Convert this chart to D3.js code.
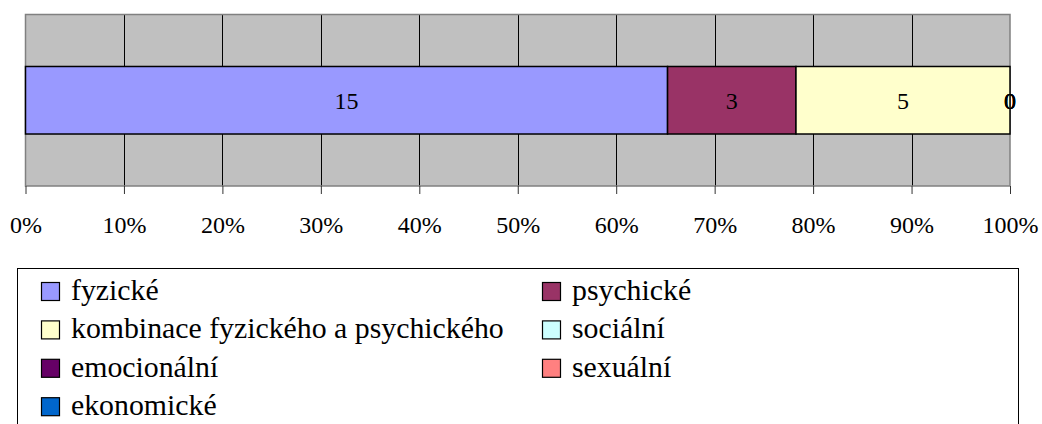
<!DOCTYPE html>
<html>
<head>
<meta charset="utf-8">
<script src="https://cdn.jsdelivr.net/npm/d3@7"></script>
<style>
  html, body { margin: 0; padding: 0; background: #fff; }
</style>
</head>
<body>
<svg id="chart"></svg>
<script>
const categories = ['fyzické', 'psychické', 'kombinace fyzického a psychického', 'sociální', 'emocionální', 'sexuální', 'ekonomické'];
const values = [15, 3, 5, 0, 0, 0, 0];
const colors = ['#9999ff', '#993366', '#ffffcc', '#ccffff', '#660066', '#ff8080', '#0066cc'];
const tickValues = [0, 0.1, 0.2, 0.3, 0.4, 0.5, 0.6, 0.7, 0.8, 0.9, 1];

(() => {
  const width = 1042;
  const height = 424;
  const plot = { left: 25.5, right: 1010, top: 14.5, bottom: 186 };
  const font = '"Liberation Serif"';

  const svg = d3.select('svg#chart')
    .attr('width', width)
    .attr('height', height);

  const total = d3.sum(values);
  let acc = 0;
  const stacked = values.map((v, i) => {
    const d = { name: categories[i], value: v, x0: acc / total, x1: (acc + v) / total, color: colors[i] };
    acc += v;
    return d;
  });

  const xScale = d3.scaleLinear()
    .domain([0, 1])
    .range([plot.left, plot.right]);

  const yScale = d3.scaleBand()
    .domain(['row'])
    .range([plot.top, plot.bottom])
    .paddingInner(0)
    .paddingOuter(0.77);

  // plot background
  svg.append('rect')
    .attr('x', plot.left)
    .attr('y', plot.top)
    .attr('width', plot.right - plot.left)
    .attr('height', plot.bottom - plot.top)
    .attr('fill', '#c0c0c0');

  // gridlines
  svg.append('g')
    .selectAll('line')
    .data(tickValues.slice(1, -1))
    .enter()
    .append('line')
      .attr('x1', d => Math.round(xScale(d)) + 0.5)
      .attr('x2', d => Math.round(xScale(d)) + 0.5)
      .attr('y1', plot.top)
      .attr('y2', plot.bottom)
      .attr('stroke', '#000')
      .attr('stroke-width', 1);

  // plot border
  svg.append('rect')
    .attr('x', plot.left)
    .attr('y', plot.top)
    .attr('width', plot.right - plot.left)
    .attr('height', plot.bottom - plot.top)
    .attr('fill', 'none')
    .attr('stroke', '#808080')
    .attr('stroke-width', 1.5);

  // axis
  const axis = svg.append('g')
    .attr('transform', `translate(0,${plot.bottom})`)
    .call(d3.axisBottom(xScale)
      .tickValues(tickValues)
      .tickFormat(d3.format('.0%'))
      .tickSize(8)
      .tickPadding(22));
  axis.attr('font-family', null).attr('font-size', null);
  axis.select('.domain').remove();
  axis.selectAll('.tick line').attr('stroke', '#333');
  axis.selectAll('text')
    .style('font-family', font)
    .style('font-size', '24px')
    .attr('fill', '#000');

  // bars
  const barY = yScale('row');
  const barH = yScale.bandwidth();
  svg.append('g')
    .selectAll('rect')
    .data(stacked.filter(d => d.value > 0))
    .enter()
    .append('rect')
      .attr('x', d => xScale(d.x0))
      .attr('y', barY)
      .attr('width', d => xScale(d.x1) - xScale(d.x0))
      .attr('height', barH)
      .attr('fill', d => d.color)
      .attr('stroke', '#000')
      .attr('stroke-width', 1.5);

  // value labels
  svg.append('g')
    .selectAll('text')
    .data(stacked)
    .enter()
    .append('text')
      .attr('x', d => xScale((d.x0 + d.x1) / 2))
      .attr('y', barY + barH / 2 + 9)
      .attr('text-anchor', 'middle')
      .attr('fill', '#000')
      .style('font-family', font)
      .style('font-size', '24px')
      .text(d => d.value);

  // legend
  const legend = svg.append('g');
  legend.append('rect')
    .attr('x', 17.5)
    .attr('y', 268.5)
    .attr('width', 1001)
    .attr('height', 180)
    .attr('fill', '#fff')
    .attr('stroke', '#000')
    .attr('stroke-width', 1);

  const colX = [41.5, 542.5];
  const rowY = 282.5;
  const rowStep = 38.4;
  const item = legend.selectAll('g.item')
    .data(stacked)
    .enter()
    .append('g')
      .attr('class', 'item')
      .attr('transform', (d, i) => `translate(${colX[i % 2]},${rowY + Math.floor(i / 2) * rowStep})`);

  item.append('rect')
    .attr('width', 18)
    .attr('height', 18)
    .attr('fill', d => d.color)
    .attr('stroke', '#000')
    .attr('stroke-width', 1.2);

  item.append('text')
    .attr('x', 29.5)
    .attr('y', 17.5)
    .attr('fill', '#000')
    .style('font-family', font)
    .style('font-size', '29.8px')
    .text(d => d.name);
})();
</script>
</body>
</html>
